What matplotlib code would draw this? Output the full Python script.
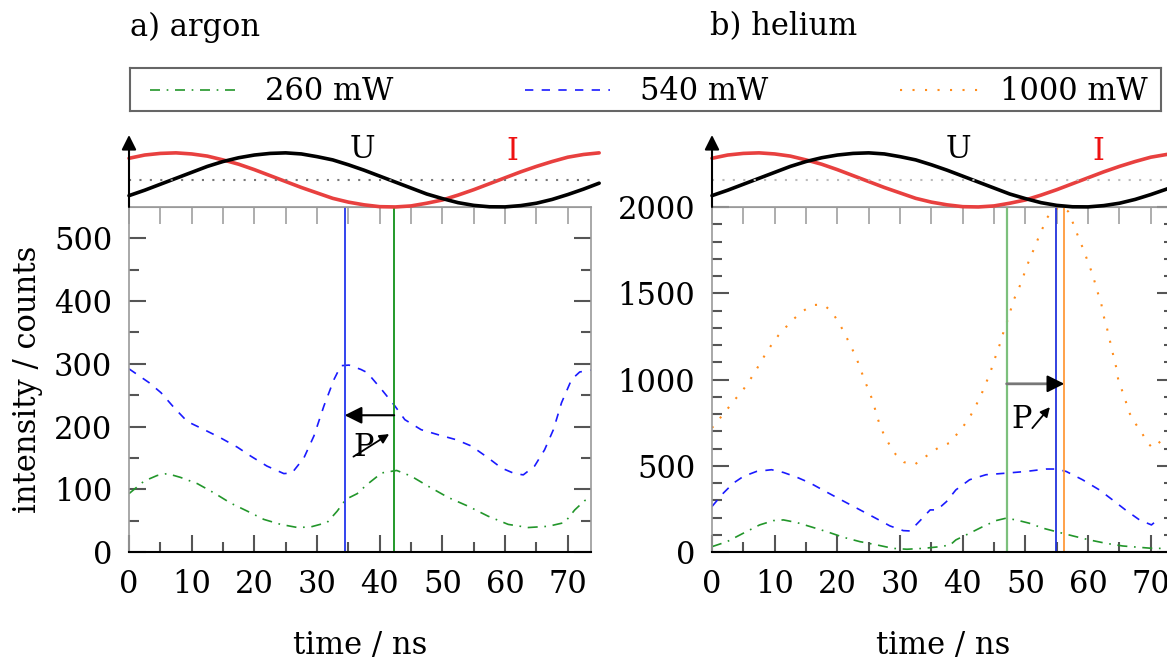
import numpy as np
import matplotlib
matplotlib.use("Agg")
import matplotlib.pyplot as plt

plt.rcParams['font.family'] = ['DejaVu Serif']
plt.rcParams['font.size'] = 22

# ---- data ----
t_ar_540 = [0, 3.2, 5.1, 7.2, 9.3, 12, 14.6, 17.3, 19.4, 22, 24.7, 26, 27.9, 29.5, 31.1, 32.7,
            33.8, 35.1, 37, 38, 40.3, 42.4, 44, 46.6, 49.3, 52.2, 54.6, 57.3, 59.4, 61.5, 62.9,
            64.7, 66.3, 67.7, 69, 70.6, 71.9, 73.7]
v_ar_540 = [292, 270, 254, 230, 208, 195, 182, 167, 153, 137, 125, 126, 150, 185, 233, 275,
            297, 298, 291, 286, 259, 233, 211, 195, 187, 179, 169, 150, 134, 125, 123,
            137, 163, 195, 238, 275, 287, 290]

t_ar_260 = [0, 2.4, 4.5, 6.1, 8.2, 10.9, 13.6, 16.2, 18.9, 21.5, 24.2, 26.9, 29, 31.6, 33.2,
            34.6, 36.4, 37.9, 40.3, 42.7, 45, 47.7, 50.9, 54.1, 57.3, 60.5, 63.7, 66.9, 69.5,
            71.1, 72.7, 73.7]
v_ar_260 = [93, 113, 122, 125, 119, 109, 94, 78, 65, 52, 44, 39, 40, 47, 65,
            84, 93, 107, 126, 130, 121, 105, 87, 73, 57, 44, 39, 41, 47,
            67, 82, 85]

t_he_1000 = [0, 1.3, 2.4, 3.5, 4.7, 5.8, 6.8, 7.7, 8.6, 9.6, 10.6, 11.8, 13.1, 14.6, 16.1, 17.8,
             19.1, 20.1, 21.0, 21.8, 22.6, 23.3, 23.9, 24.5, 25.2, 25.8, 26.2, 26.8, 27.5, 28.4,
             29.3, 30.6, 32.3, 33.6, 35.1, 36.4, 37.9, 39.0, 40.1, 41.2, 42.1, 42.9, 43.6, 44.3,
             44.8, 45.4, 46.0, 46.5, 47.1, 47.6, 48.1, 48.9, 49.5, 50.1, 50.7, 51.4, 52.1, 52.8,
             53.4, 54.2, 55.5, 56.8, 57.3, 58.0, 58.6, 59.3, 59.9, 60.5, 61.0, 61.5, 62.1, 62.4,
             62.9, 63.3, 63.7, 64.1, 64.5, 64.8, 65.4, 66.0, 66.5, 67.4, 68.5, 69.4, 70.3, 71.1,
             71.9]
v_he_1000 = [719, 777, 826, 878, 926, 984, 1039, 1097, 1151, 1207, 1256, 1304, 1353, 1399, 1432, 1434,
             1393, 1337, 1279, 1219, 1159, 1099, 1039, 981, 919, 859, 800, 734, 674, 616,
             566, 521, 506, 541, 579, 612, 632, 680, 729, 787, 849, 907, 971, 1029,
             1087, 1151, 1213, 1275, 1339, 1397, 1459, 1523, 1581, 1643, 1702, 1760, 1824, 1882,
             1934, 1975, 2000, 1975, 1934, 1868, 1810, 1750, 1688, 1630, 1572, 1508, 1440, 1378,
             1314, 1252, 1190, 1126, 1068, 1000, 938, 874, 812, 752, 696, 636, 603, 626,
             655]

t_he_540 = [0, 1.8, 3.4, 5.0, 7.1, 9.5, 11.4, 13.5, 15.7, 17.8, 20.4, 23.1, 25.8, 28.4, 30.5,
            31.6, 33.2, 34.8, 35.9, 37.4, 38.9, 41.1, 43.7, 46.9, 50.1, 53.3, 54.9, 56.5, 59.1,
            61.8, 63.9, 66.1, 68.2, 70.1, 71.4]
v_he_540 = [264, 341, 399, 438, 467, 477, 461, 434, 399, 357, 306, 254, 202, 151, 124,
            122, 182, 244, 244, 292, 360, 419, 448, 457, 467, 481, 481, 467, 419,
            360, 302, 240, 186, 157, 196]

t_he_260 = [0, 2.4, 5.0, 7.6, 9.8, 11.4, 13.5, 15.7, 18.3, 21.0, 23.6, 26.3, 28.9, 31.1, 33.7,
            36.4, 38.0, 38.9, 41.1, 43.2, 45.3, 46.9, 48.5, 50.6, 52.8, 54.9, 57.6, 60.2, 62.9,
            65.5, 68.2, 70.3, 71.9]
v_he_260 = [31, 60, 109, 157, 182, 186, 171, 147, 118, 85, 60, 41, 21, 16, 21,
            31, 41, 70, 109, 147, 182, 196, 186, 167, 138, 118, 93, 70, 50,
            35, 27, 21, 21]

# schematic voltage / current (normalised 0..1), read every 2.5 ns
t_rf = [2.5 * k for k in range(31)]
u_rf = [0.21, 0.31, 0.42, 0.53, 0.64, 0.75, 0.84, 0.91, 0.96, 0.99, 1.00, 0.98, 0.93, 0.87, 0.78,
        0.68, 0.57, 0.46, 0.35, 0.24, 0.155, 0.08, 0.03, 0.004, 0.002, 0.026, 0.07, 0.14, 0.23,
        0.33, 0.44]
i_rf = [0.90, 0.96, 0.99, 1.00, 0.98, 0.94, 0.87, 0.79, 0.69, 0.58, 0.47, 0.36, 0.26, 0.16, 0.09,
        0.04, 0.006, 0.001, 0.02, 0.07, 0.13, 0.22, 0.32, 0.43, 0.54, 0.65, 0.75, 0.84, 0.92,
        0.97, 1.00]

legend_labels = ["260 mW", "540 mW", "1000 mW"]
titles = ["a) argon", "b) helium"]
T_RF = 73.7

# vertical lines at the peak positions
ar_lines = [(34.4, '#3344ee'), (42.3, '#22992a')]
he_lines = [(47.0, '#7cc07c'), (54.9, '#2233dd'), (56.2, '#ff9a3c')]

GREEN = '#22962a'
BLUE = '#1a1aff'
ORANGE = '#ff8c1a'
ls_260 = (0, (6, 4, 1, 4))
ls_540 = (0, (5, 5))
ls_1000 = (0, (1, 5))

W, H = 1167, 664
fig = plt.figure(figsize=(W / 100, H / 100), dpi=100)


def fx(px):
    return px / W


def fy(py):
    return 1 - py / H


def style_main(ax, ymax, major, minor):
    ax.set_xlim(0, T_RF)
    ax.set_ylim(0, ymax)
    ax.set_xticks(np.arange(0, 71, 10))
    ax.set_xticks(np.arange(5, 71, 10), minor=True)
    ax.set_yticks(np.arange(0, ymax + 1, major))
    ax.set_yticks(np.arange(minor, ymax, minor), minor=True)
    ax.tick_params(which='both', direction='in', right=True, top=False, color='#555555', width=1.5)
    ax.tick_params(which='major', length=12, pad=12)
    ax.tick_params(which='minor', length=7)
    for s in ['left', 'top', 'right']:
        ax.spines[s].set_color('#9a9a9a')
        ax.spines[s].set_linewidth(1.2)
    ax.spines['bottom'].set_color('black')
    ax.spines['bottom'].set_linewidth(1.5)
    top = ax.secondary_xaxis('top')
    top.set_xticks(np.arange(0, 71, 5))
    top.tick_params(direction='in', length=12, color='#a0a0a0', width=1.2, labeltop=False)
    top.spines['top'].set_color('#9a9a9a')
    ax.set_xlabel("time / ns", labelpad=22)


def inset(left_px, dot_color, u_x, i_x):
    ax = fig.add_axes([fx(left_px), fy(207), fx(462), 72 / H])
    ax.set_xlim(0, T_RF)
    ax.set_ylim(0, 1.33)
    ax.axis('off')
    ax.plot(t_rf, i_rf, color='#e8403f', lw=2.6, clip_on=False, solid_capstyle='round')
    ax.plot(t_rf, u_rf, color='black', lw=2.6, clip_on=False, solid_capstyle='round')
    ax.axhline(0.5, color=dot_color, lw=1.5, ls=(0, (1, 4)))
    ax.annotate('', xy=(0, 1.0), xytext=(0, 0), xycoords='axes fraction',
                arrowprops=dict(arrowstyle='-|>', color='black', lw=1.5,
                                mutation_scale=22, shrinkA=0, shrinkB=0))
    ax.text(u_x, 1.06, "U", ha='center', va='center', color='black')
    ax.text(i_x, 1.02, "I", ha='center', va='center', color='#ee1111')
    return ax


# ---- a) argon ----
ax1 = fig.add_axes([fx(129), fy(552), fx(462), 345 / H])
ax1.plot(t_ar_260, v_ar_260, color=GREEN, lw=1.2, ls=ls_260)
ax1.plot(t_ar_540, v_ar_540, color=BLUE, lw=1.2, ls=ls_540)
for tx, c in ar_lines:
    ax1.axvline(tx, color=c, lw=1.4)
ax1.annotate('', xy=(ar_lines[0][0], 218), xytext=(ar_lines[1][0], 218),
             arrowprops=dict(arrowstyle='-|>', color='black', lw=1.5, mutation_scale=26,
                             shrinkA=0, shrinkB=0))
ax1.text(37.4, 167, "P", ha='center', va='center')
ax1.annotate('', xy=(41.5, 188), xytext=(35.8, 152),
             arrowprops=dict(arrowstyle='-|>', color='black', lw=1.3, mutation_scale=14,
                             shrinkA=0, shrinkB=0))
style_main(ax1, 550, 100, 50)
ax1.set_ylabel("intensity / counts", labelpad=8)
inset(129, '#777777', 37.3, 61.2)

# ---- b) helium ----
ax2 = fig.add_axes([fx(712), fy(552), fx(462), 345 / H])
ax2.plot(t_he_260, v_he_260, color=GREEN, lw=1.2, ls=ls_260)
ax2.plot(t_he_540, v_he_540, color=BLUE, lw=1.2, ls=ls_540)
ax2.plot(t_he_1000, v_he_1000, color=ORANGE, lw=1.5, ls=ls_1000)
for tx, c in he_lines:
    ax2.axvline(tx, color=c, lw=1.6 if c == '#7cc07c' else 1.3)
# gray shaft, black head
ax2.annotate('', xy=(he_lines[2][0] - 1.0, 975), xytext=(he_lines[0][0], 975),
             arrowprops=dict(arrowstyle='-', color='#777777', lw=2.0, shrinkA=0, shrinkB=0))
ax2.annotate('', xy=(he_lines[2][0], 975), xytext=(he_lines[2][0] - 1.5, 975),
             arrowprops=dict(arrowstyle='-|>', color='black', lw=1.5, mutation_scale=26,
                             shrinkA=0, shrinkB=0))
ax2.text(49.4, 767, "P", ha='center', va='center')
ax2.annotate('', xy=(53.9, 840), xytext=(51.1, 718),
             arrowprops=dict(arrowstyle='-|>', color='black', lw=1.3, mutation_scale=14,
                             shrinkA=0, shrinkB=0))
style_main(ax2, 2000, 500, 100)
inset(712, '#bbbbbb', 39.3, 61.7)

# ---- legend box ----
lg = fig.add_axes([fx(130), fy(111), fx(1031), 43 / H])
lg.set_xlim(0, 1)
lg.set_ylim(0, 1)
lg.set_xticks([])
lg.set_yticks([])
for s in lg.spines.values():
    s.set_color('#666666')
    s.set_linewidth(1.5)
key_x = [(0.019, 0.102), (0.383, 0.466), (0.747, 0.829)]
text_x = [0.131, 0.495, 0.844]
key_style = [(GREEN, ls_260, 1.2), (BLUE, ls_540, 1.2), (ORANGE, ls_1000, 1.5)]
for (x0, x1), tx, (c, ls, lw), lab in zip(key_x, text_x, key_style, legend_labels):
    lg.plot([x0, x1], [0.5, 0.5], color=c, ls=ls, lw=lw)
    lg.text(tx, 0.45, lab, ha='left', va='center')

for px, title in zip([130, 710], titles):
    fig.text(fx(px), fy(27), title, ha='left', va='center')

fig.savefig("out.png", dpi=100)
